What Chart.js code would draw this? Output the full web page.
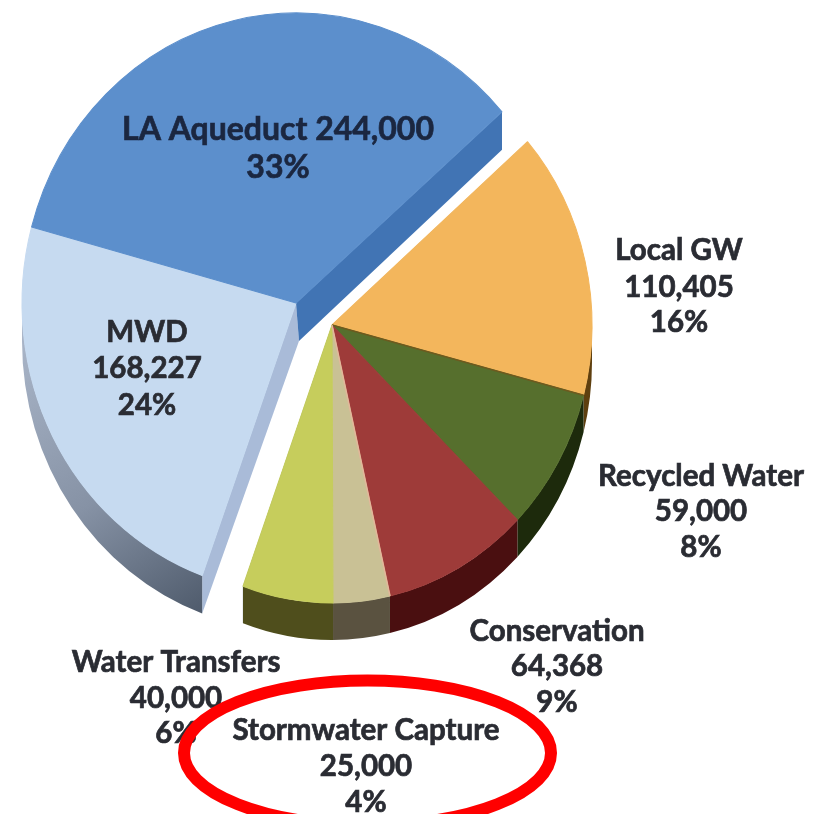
<!DOCTYPE html>
<html>
<head>
<meta charset="utf-8">
<title>Water supply sources</title>
<script src="https://cdn.jsdelivr.net/npm/chart.js@4"></script>
<style>
  html, body { margin: 0; padding: 0; background: #fff; }
  canvas { display: block; }
</style>
</head>
<body>
<canvas id="supplyChart" width="817" height="814"></canvas>
<script>
// Supply sources, clockwise from the top right of the pie
const sources = ['Local GW', 'Recycled Water', 'Conservation', 'Stormwater Capture', 'Water Transfers', 'MWD', 'LA Aqueduct'];
const acreFeet = [110405, 59000, 64368, 25000, 40000, 168227, 244000];
const percents = ['16%', '8%', '9%', '4%', '6%', '24%', '33%'];

// Slice colours: top surface, then the outer wall below it
const topColors = ['#f3b65c', '#566f2d', '#9e3b39', '#c9c195', '#c6cd5c', '#c6daf0', '#5c8fcc'];
const wallColors = ['#5e3f0f', '#1d2a0c', '#4a0f10', '#5a5240', '#4f4e1c', '#7f8b9e', '#4174b4'];

// The pie is split in two pieces pulled apart from each other
const pieces = [
  { apexX: 332, apexY: 325, radiusX: 260, radiusY: 278, depth: 37, slices: [0, 1, 2, 3, 4] },
  { apexX: 296, apexY: 303, radiusX: 274, radiusY: 290, depth: 38, slices: [5, 6] }
];

// Where each label block sits: centre x, then the middle of each line
const labelSpots = [
  { x: 679, lines: [250, 287, 322] },
  { x: 701, lines: [476, 511, 547] },
  { x: 557, lines: [631, 666, 702] },
  { x: 366, lines: [730, 766, 802] },
  { x: 176, lines: [662, 698, 733] },
  { x: 147, lines: [332, 368, 405] },
  { x: 278, lines: [130, 168] }
];

function labelLines(i) {
  const amount = acreFeet[i].toLocaleString('en-US');
  if (i === 6) return [sources[i] + ' ' + amount, percents[i]];
  return [sources[i], amount, percents[i]];
}

function drawFace(ctx, piece, angle, color) {
  const x = piece.apexX + piece.radiusX * Math.cos(angle);
  const y = piece.apexY + piece.radiusY * Math.sin(angle);
  ctx.fillStyle = color;
  ctx.beginPath();
  ctx.moveTo(piece.apexX, piece.apexY);
  ctx.lineTo(x, y);
  ctx.lineTo(x, y + piece.depth);
  ctx.lineTo(piece.apexX + 3, piece.apexY + piece.depth);
  ctx.closePath();
  ctx.fill();
}

function drawWall(ctx, piece, arc, fill) {
  const start = Math.max(arc.startAngle, 0);
  const end = Math.min(arc.endAngle, Math.PI);
  if (end <= start) return;
  ctx.fillStyle = fill;
  ctx.beginPath();
  ctx.ellipse(piece.apexX, piece.apexY, piece.radiusX, piece.radiusY, 0, start, end);
  ctx.ellipse(piece.apexX, piece.apexY + piece.depth, piece.radiusX, piece.radiusY, 0, end, start, true);
  ctx.closePath();
  ctx.fill();
}

// thin line along the shared edge of two slices
function drawSeam(ctx, piece, angle, color) {
  ctx.strokeStyle = color;
  ctx.lineWidth = 1.5;
  ctx.beginPath();
  ctx.moveTo(piece.apexX, piece.apexY);
  ctx.lineTo(piece.apexX + piece.radiusX * Math.cos(angle), piece.apexY + piece.radiusY * Math.sin(angle));
  ctx.stroke();
}

// Replaces the flat pie drawing with the raised, split version
const raisedPie = {
  id: 'raisedPie',
  beforeDatasetsDraw(chart) {
    const ctx = chart.ctx;
    const arcs = chart.getDatasetMeta(0).data;

    pieces.forEach((piece) => {
      const first = arcs[piece.slices[0]];
      const last = arcs[piece.slices[piece.slices.length - 1]];

      // cut faces of the piece
      drawFace(ctx, piece, first.startAngle, '#a9bbd8');
      drawFace(ctx, piece, last.endAngle, wallColors[6]);

      piece.slices.forEach((i) => {
        let fill = wallColors[i];
        if (i === 5) {
          fill = ctx.createLinearGradient(22, 330, 202, 612);
          fill.addColorStop(0, '#aab6c9');
          fill.addColorStop(0.55, '#8692a5');
          fill.addColorStop(1, '#4f5b6c');
        }
        drawWall(ctx, piece, arcs[i], fill);
      });

      piece.slices.forEach((i) => {
        const arc = arcs[i];
        ctx.save();
        ctx.translate(piece.apexX, piece.apexY);
        ctx.scale(piece.radiusX / arc.outerRadius, piece.radiusY / arc.outerRadius);
        ctx.translate(-arc.x, -arc.y);
        arc.draw(ctx);
        ctx.restore();
      });
    });

    drawSeam(ctx, pieces[0], arcs[0].endAngle, '#6e5a1e');
    drawSeam(ctx, pieces[0], arcs[2].endAngle, '#e3b79a');
    return false;
  },
  // returning false above skips the datasets hooks, so text goes on here
  afterDraw(chart) {
    const ctx = chart.ctx;
    ctx.save();
    ctx.textAlign = 'center';
    ctx.textBaseline = 'middle';
    ctx.lineWidth = 0.7;
    sources.forEach((name, i) => {
      ctx.font = i === 6 ? '700 32px Lato' : '700 29.5px Lato';
      ctx.fillStyle = i === 6 ? '#1b2740' : '#2a2c33';
      ctx.strokeStyle = ctx.fillStyle;
      labelLines(i).forEach((line, n) => {
        ctx.fillText(line, labelSpots[i].x, labelSpots[i].lines[n]);
        ctx.strokeText(line, labelSpots[i].x, labelSpots[i].lines[n]);
      });
    });

    // red ring around the stormwater label
    ctx.strokeStyle = '#ff0000';
    ctx.lineWidth = 12;
    ctx.beginPath();
    ctx.ellipse(367.5, 753, 183.5, 72.5, 0, 0, Math.PI * 2);
    ctx.stroke();
    ctx.restore();
  }
};

new Chart(document.getElementById('supplyChart').getContext('2d'), {
  type: 'pie',
  data: {
    labels: sources,
    datasets: [{
      data: acreFeet,
      backgroundColor: topColors,
      borderColor: topColors,
      borderWidth: 1,
      radius: 270
    }]
  },
  options: {
    responsive: false,
    animation: false,
    rotation: 48.75,
    plugins: {
      legend: { display: false },
      tooltip: { enabled: false }
    }
  },
  plugins: [raisedPie]
});
</script>
</body>
</html>
